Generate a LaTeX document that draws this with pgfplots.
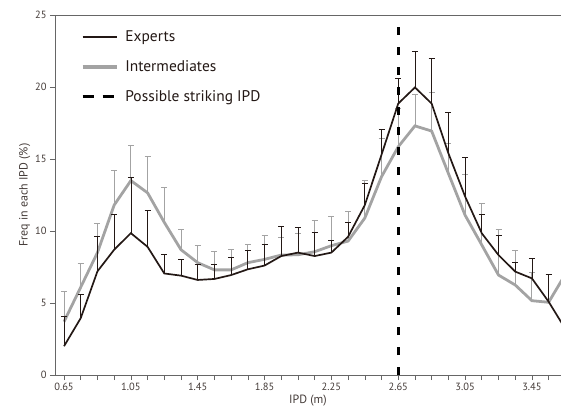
\documentclass[border=0pt]{standalone}
\usepackage{pgfplots}
\pgfplotsset{compat=1.18}
\usepackage{pgfplotstable}
\usepackage{fontspec}
\setmainfont{PT Sans}
\setsansfont{PT Sans}
\definecolor{exp}{HTML}{231815}
\definecolor{intm}{HTML}{A3A3A3}
\definecolor{spine}{HTML}{666666}

% x  value  error(top-value)
\pgfplotstableread{
x y e
0.65 2.0 2.1
0.75 3.95 1.65
0.85 7.2 2.4
0.95 8.7 2.45
1.05 9.85 3.9
1.15 8.9 2.5
1.25 7.05 1.35
1.35 6.9 1.15
1.45 6.6 1.1
1.55 6.67 1.03
1.65 6.94 1.26
1.75 7.34 1.34
1.85 7.6 1.5
1.95 8.26 2.09
2.05 8.5 1.75
2.15 8.26 1.64
2.25 8.5 0.87
2.35 9.6 1.0
2.45 11.8 1.5
2.55 15.3 1.78
2.65 18.85 1.75
2.75 19.97 2.48
2.85 18.85 3.15
2.95 15.4 2.84
3.05 12.4 2.7
3.15 9.84 1.32
3.25 8.33 1.39
3.35 7.18 0.64
3.45 6.71 1.39
3.55 5.09 1.92
3.65 3.2 0
}\experts

\pgfplotstableread{
x y e
0.65 3.7 2.1
0.75 6.1 1.65
0.85 8.5 2.0
0.95 11.8 2.4
1.05 13.5 2.45
1.15 12.65 2.55
1.25 10.6 2.4
1.35 8.7 1.4
1.45 7.8 1.23
1.55 7.3 1.3
1.65 7.3 1.45
1.75 7.8 1.27
1.85 8.03 1.69
1.95 8.33 1.2
2.05 8.35 1.5
2.15 8.56 2.14
2.25 8.98 2.02
2.35 9.3 2.04
2.45 10.9 2.64
2.55 13.77 2.63
2.65 15.85 2.65
2.75 17.3 2.2
2.85 16.94 2.66
2.95 14.0 2.1
3.05 11.1 2.8
3.15 9.03 2.87
3.25 6.94 3.2
3.35 6.25 2.43
3.45 5.16 1.94
3.55 5.05 1.9
3.65 7.0 0
}\intermediates

\begin{document}
\begin{tikzpicture}
\begin{axis}[
  at={(0,0)}, anchor=south west,
  scale only axis, width=506bp, height=360bp,
  xmin=0.596, xmax=3.624, ymin=0, ymax=25,
  axis x line*=bottom, axis y line*=left,
  axis line style={-, spine, line width=0.8pt},
  tick align=outside,
  major tick length=5bp, minor tick length=5bp,
  every tick/.style={spine, line width=0.6pt},
  xtick={0.65,1.05,1.45,1.85,2.25,2.65,3.05,3.45},
  xticklabels={0.65,1.05,1.45,1.85,2.25,2.65,3.05,3.45},
  minor xtick={0.75,0.85,0.95,1.15,1.25,1.35,1.55,1.65,1.75,1.95,2.05,2.15,2.35,2.45,2.55,2.75,2.85,2.95,3.15,3.25,3.35,3.55},
  ytick={0,5,10,15,20,25},
  /pgf/number format/assume math mode=true,
  ticklabel style={font=\fontsize{10.5}{12}\selectfont, text=exp!85},
  xlabel={IPD (m)}, ylabel={Freq in each IPD (\%)},
  label style={font=\fontsize{12}{13}\selectfont, text=exp!85},
  xlabel style={yshift=3bp},
  ylabel style={yshift=-2bp},
  legend style={draw=none, fill=none, at={(rel axis cs:0.051,0.962)}, anchor=north west,
    font=\fontsize{15.5}{17}\selectfont, text=exp, row sep=13.5bp, inner sep=0pt},
  legend cell align=left,
  legend image code/.code={\draw[#1] (0bp,0bp) -- (34bp,0bp); \path (39bp,0bp);},
]
\addlegendimage{exp, line width=2.8pt}
\addlegendentry{Experts}
\addlegendimage{intm, line width=3.4pt}
\addlegendentry{Intermediates}
\addlegendimage{black, line width=2.8pt, dash pattern=on 11bp off 9bp}
\addlegendentry{Possible striking IPD}

\addplot[intm, line width=2.8pt, forget plot,
  error bars/.cd, y dir=plus, y explicit,
  error bar style={intm, line width=0.9pt},
  error mark options={intm, line width=0.9pt, mark size=3bp, rotate=90}]
  table[x=x, y=y, y error=e] {\intermediates};
\addplot[exp, line width=1.7pt, forget plot,
  error bars/.cd, y dir=plus, y explicit,
  error bar style={exp, line width=0.7pt},
  error mark options={exp, line width=0.7pt, mark size=3bp, rotate=90}]
  table[x=x, y=y, y error=e] {\experts};
\addplot[black, line width=2.6pt, dash pattern=on 8bp off 12bp, forget plot]
  coordinates {(2.65,0) (2.65,25)};
\end{axis}
\draw[spine, line width=0.8pt] (0,360bp) -- (506bp,360bp);
\pgfresetboundingbox
\path[use as bounding box] (-55bp,-32bp) rectangle (506bp,375bp);
\end{tikzpicture}
\end{document}
